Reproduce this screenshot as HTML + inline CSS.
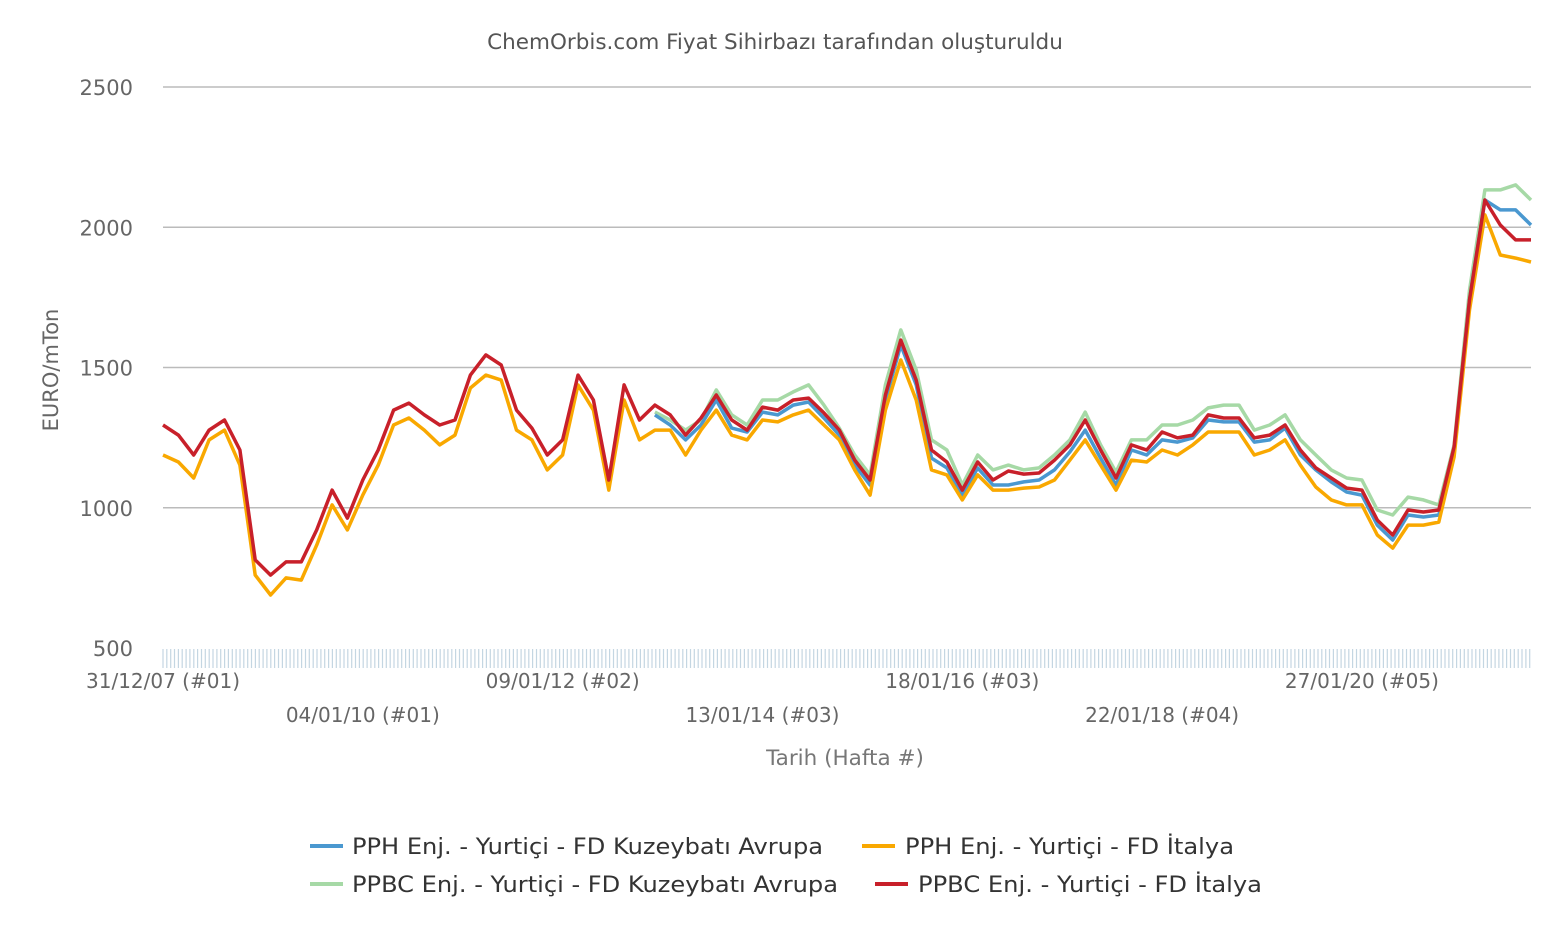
<!DOCTYPE html>
<html><head><meta charset="utf-8"><style>
body{margin:0;background:#fff;}
svg text{font-family:"DejaVu Sans","Liberation Sans",sans-serif;}
</style></head><body>
<svg id="chart" width="1552" height="930" xmlns="http://www.w3.org/2000/svg">
<text x="775" y="49" text-anchor="middle" font-size="21.5" fill="#555">ChemOrbis.com Fiyat Sihirbazı tarafından oluşturuldu</text>
<g id="grid"></g>
<g id="xticks"></g>
<g id="series"></g>
<text transform="translate(58,370) rotate(-90)" text-anchor="middle" font-size="21" fill="#666">EURO/mTon</text>
<text x="845" y="765" text-anchor="middle" font-size="21.5" fill="#777">Tarih (Hafta #)</text>
<g font-size="22" fill="#333">
<g><line x1="310" y1="846" x2="343" y2="846" stroke="#4a98d0" stroke-width="4"/><text x="352" y="854" textLength="471" lengthAdjust="spacingAndGlyphs">PPH Enj. - Yurtiçi - FD Kuzeybatı Avrupa</text></g>
<g><line x1="862" y1="846" x2="895" y2="846" stroke="#f9a800" stroke-width="4"/><text x="905" y="854" textLength="329" lengthAdjust="spacingAndGlyphs">PPH Enj. - Yurtiçi - FD İtalya</text></g>
<g><line x1="310" y1="884" x2="343" y2="884" stroke="#a6d9a6" stroke-width="4"/><text x="352" y="892" textLength="486" lengthAdjust="spacingAndGlyphs">PPBC Enj. - Yurtiçi - FD Kuzeybatı Avrupa</text></g>
<g><line x1="875" y1="884" x2="908" y2="884" stroke="#c8202a" stroke-width="4"/><text x="918" y="892" textLength="344" lengthAdjust="spacingAndGlyphs">PPBC Enj. - Yurtiçi - FD İtalya</text></g>
</g>
</svg>
<script>
const yTicks=[500,1000,1500,2000,2500];
const xLabels=["31/12/07 (#01)","04/01/10 (#01)","09/01/12 (#02)","13/01/14 (#03)","18/01/16 (#03)","22/01/18 (#04)","27/01/20 (#05)"];
const xLabelIdx=[0,13,26,39,52,65,78];
const ppbcItaly=[1295,1259,1188,1277,1313,1206,814,760,807,807,921,1063,963,1099,1206,1348,1373,1331,1295,1313,1473,1545,1509,1348,1284,1188,1242,1473,1384,1099,1438,1313,1366,1331,1259,1320,1402,1313,1277,1359,1348,1384,1391,1338,1277,1170,1099,1402,1598,1455,1206,1163,1063,1163,1099,1131,1120,1124,1170,1224,1313,1206,1106,1224,1206,1270,1249,1259,1331,1320,1320,1249,1259,1295,1206,1142,1106,1070,1063,956,903,992,985,992,1217,1741,2097,2008,1955,1955];
const pphItaly=[1188,1163,1106,1242,1277,1152,760,689,750,742,867,1010,921,1045,1152,1295,1320,1277,1224,1259,1427,1473,1455,1277,1242,1135,1188,1438,1348,1063,1384,1242,1277,1277,1188,1277,1348,1259,1242,1313,1306,1331,1348,1295,1242,1135,1045,1348,1527,1384,1135,1117,1028,1117,1063,1063,1070,1074,1099,1170,1242,1152,1063,1170,1163,1206,1188,1224,1270,1270,1270,1188,1206,1242,1152,1074,1028,1010,1010,903,856,938,938,949,1181,1705,2044,1901,1890,1876];
const pphNW=[null,null,null,null,null,null,null,null,null,null,null,null,null,null,null,null,null,null,null,null,null,null,null,null,null,null,null,null,null,null,null,null,1331,1295,1242,1295,1384,1284,1270,1341,1331,1366,1377,1320,1259,1152,1081,1384,1580,1438,1177,1142,1045,1142,1081,1081,1092,1099,1135,1199,1277,1177,1081,1206,1188,1242,1234,1249,1313,1306,1306,1234,1242,1284,1188,1135,1092,1056,1045,938,885,974,967,974,1199,1741,2097,2062,2062,2008];
const ppbcNW=[null,null,null,null,null,null,null,null,null,null,null,null,null,null,null,null,null,null,null,null,null,null,null,null,null,null,null,null,null,null,null,null,1341,1313,1277,1313,1420,1331,1295,1384,1384,1413,1438,1366,1284,1188,1117,1438,1634,1491,1242,1206,1081,1188,1135,1152,1135,1142,1188,1242,1341,1224,1127,1242,1242,1295,1295,1313,1356,1366,1366,1277,1295,1331,1242,1188,1135,1106,1099,992,974,1038,1028,1010,1224,1776,2133,2133,2151,2097];
const NS="http://www.w3.org/2000/svg";
const X0=163,X1=1531,N=ppbcItaly.length;
const xPos=i=>X0+(X1-X0)*i/(N-1);
const yPos=v=>648-(v-500)*0.2805;
const grid=document.getElementById('grid');
yTicks.forEach(t=>{
 if(t>500){const l=document.createElementNS(NS,'line');
 
 
 l.setAttribute('x1',X0);l.setAttribute('x2',X1);l.setAttribute('y1',yPos(t));l.setAttribute('y2',yPos(t));
 l.setAttribute('stroke','#bbb');l.setAttribute('stroke-width','1.5');grid.appendChild(l);}
 const tx=document.createElementNS(NS,'text');
 
 
 tx.setAttribute('x',133);tx.setAttribute('y',yPos(t)+8);tx.setAttribute('text-anchor','end');
 tx.setAttribute('font-size','21');tx.setAttribute('fill','#666');tx.textContent=t;grid.appendChild(tx);
});
const xt=document.getElementById('xticks');
let d='';for(let x=X0;x<=X1+0.5;x+=3.85){d+='M'+x.toFixed(1)+' 649V668';}
const tp=document.createElementNS(NS,'path');


tp.setAttribute('d',d);tp.setAttribute('stroke','#c4d6e2');tp.setAttribute('stroke-width','1.2');xt.appendChild(tp);
xLabels.forEach((s,k)=>{
 const tx=document.createElementNS(NS,'text');
 
 
 tx.setAttribute('x',xPos(xLabelIdx[k]));tx.setAttribute('y',k%2?722:688);tx.setAttribute('text-anchor','middle');
 tx.setAttribute('font-size','20');tx.setAttribute('fill','#666');tx.textContent=s;xt.appendChild(tx);
});
const sg=document.getElementById('series');
[[ppbcNW,'#a6d9a6','ppbc-nw-europe-line'],[pphNW,'#4a98d0','pph-nw-europe-line'],[pphItaly,'#f9a800','pph-italy-line'],[ppbcItaly,'#c8202a','ppbc-italy-line']].forEach(([arr,c,n])=>{
 let p='',pen=false;
 arr.forEach((v,i)=>{if(v==null){pen=false;return;}p+=(pen?'L':'M')+xPos(i).toFixed(1)+' '+yPos(v).toFixed(1);pen=true;});
 const path=document.createElementNS(NS,'path');
 
 
 path.setAttribute('d',p);path.setAttribute('fill','none');path.setAttribute('stroke',c);
 path.setAttribute('stroke-width','3.5');path.setAttribute('stroke-linejoin','round');sg.appendChild(path);
});
</script>
</body></html>
